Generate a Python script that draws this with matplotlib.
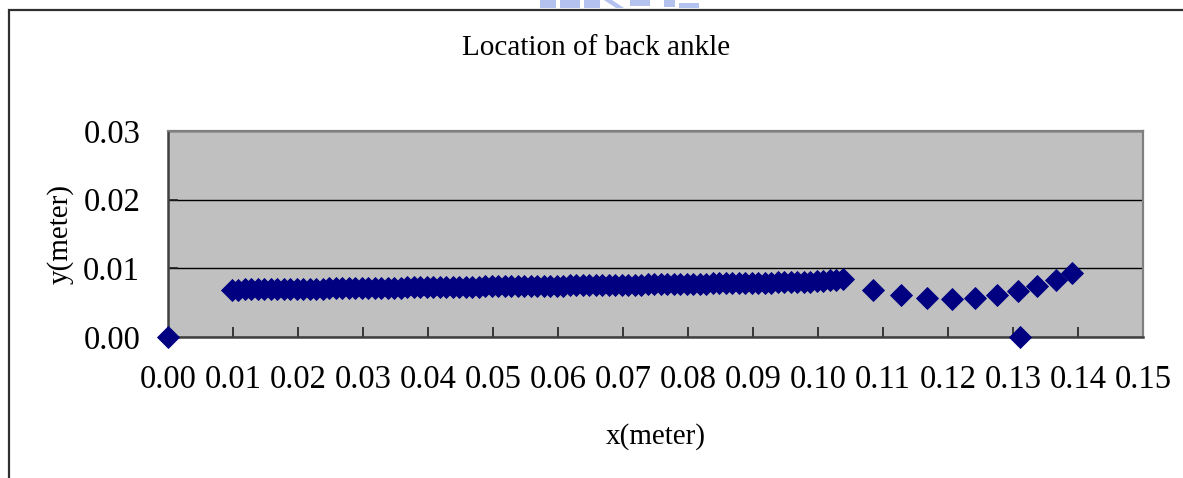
import matplotlib
matplotlib.use("Agg")
import matplotlib.pyplot as plt
from matplotlib.patches import Rectangle, Polygon

plt.rcParams['font.family'] = ['Liberation Serif', 'DejaVu Serif']

# Back-ankle trajectory: tightly sampled stance phase
x_stance = [
    0.0098, 0.0108, 0.0118, 0.0128, 0.0138, 0.0148, 0.0158, 0.0168, 0.0178, 0.0188,
    0.0198, 0.0208, 0.0218, 0.0228, 0.0238, 0.0248, 0.0258, 0.0268, 0.0278, 0.0288,
    0.0298, 0.0308, 0.0318, 0.0328, 0.0338, 0.0348, 0.0358, 0.0368, 0.0378, 0.0388,
    0.0398, 0.0408, 0.0418, 0.0428, 0.0438, 0.0448, 0.0458, 0.0468, 0.0478, 0.0488,
    0.0498, 0.0508, 0.0518, 0.0528, 0.0538, 0.0548, 0.0558, 0.0568, 0.0578, 0.0588,
    0.0598, 0.0608, 0.0618, 0.0628, 0.0638, 0.0648, 0.0658, 0.0668, 0.0678, 0.0688,
    0.0698, 0.0708, 0.0718, 0.0728, 0.0738, 0.0748, 0.0758, 0.0768, 0.0778, 0.0788,
    0.0798, 0.0808, 0.0818, 0.0828, 0.0838, 0.0848, 0.0858, 0.0868, 0.0878, 0.0888,
    0.0898, 0.0908, 0.0918, 0.0928, 0.0938, 0.0948, 0.0958, 0.0968, 0.0978, 0.0988,
    0.0998, 0.1008, 0.1018, 0.1028, 0.1038,
]
y_stance = [
    0.00690, 0.00691, 0.00692, 0.00694, 0.00695, 0.00696, 0.00697, 0.00698, 0.00699, 0.00701,
    0.00702, 0.00703, 0.00704, 0.00705, 0.00706, 0.00708, 0.00709, 0.00710, 0.00711, 0.00712,
    0.00713, 0.00715, 0.00716, 0.00717, 0.00718, 0.00719, 0.00720, 0.00722, 0.00723, 0.00724,
    0.00725, 0.00726, 0.00727, 0.00729, 0.00730, 0.00731, 0.00732, 0.00733, 0.00734, 0.00736,
    0.00737, 0.00738, 0.00739, 0.00740, 0.00741, 0.00743, 0.00744, 0.00745, 0.00746, 0.00747,
    0.00748, 0.00750, 0.00751, 0.00752, 0.00753, 0.00754, 0.00755, 0.00757, 0.00758, 0.00759,
    0.00760, 0.00761, 0.00763, 0.00764, 0.00766, 0.00767, 0.00769, 0.00770, 0.00771, 0.00773,
    0.00774, 0.00776, 0.00777, 0.00779, 0.00780, 0.00781, 0.00783, 0.00784, 0.00786, 0.00787,
    0.00789, 0.00790, 0.00791, 0.00793, 0.00794, 0.00796, 0.00797, 0.00799, 0.00800, 0.00806,
    0.00812, 0.00818, 0.00825, 0.00832, 0.00840,
]

# Swing phase, coarser sampling
x_swing = [0.1084, 0.1128, 0.1168, 0.1206, 0.1242, 0.1275, 0.1307, 0.1337, 0.1366, 0.1391]
y_swing = [0.00691, 0.00609, 0.00570, 0.00555, 0.00570, 0.00609, 0.00677, 0.00749, 0.00836, 0.00938]

# Reference points lying on the ground line
x_ground = [0.0, 0.1311]
y_ground = [0.0, 0.0]

x_ticks = [0.00, 0.01, 0.02, 0.03, 0.04, 0.05, 0.06, 0.07, 0.08, 0.09, 0.10, 0.11, 0.12, 0.13, 0.14, 0.15]
y_ticks = [0.00, 0.01, 0.02, 0.03]

W, H = 1183, 478
fig = plt.figure(figsize=(W / 100, H / 100), dpi=100)
fig.patch.set_facecolor('white')

# Outer chart frame (runs off the right and bottom edges)
fig.patches.append(Rectangle((8.5 / W, -0.05), 1.2, 1 - 10.5 / H + 0.05,
                             transform=fig.transFigure, fill=False,
                             edgecolor='#303030', linewidth=1.6, zorder=0))

# Faint watermark fragments along the top edge
wm = '#B4C2EF'
for pts in [
    [(540, 0), (556, 0), (556, 8), (540, 8)],
    [(560, 0), (580, 0), (580, 8), (560, 8)],
    [(584, 0), (600, 0), (600, 8), (584, 8)],
    [(604, 0), (612, 0), (624, 8), (616, 8)],
    [(630, 0), (650, 0), (650, 6), (630, 6)],
    [(664, 0), (675, 0), (675, 7), (664, 7)],
    [(679, 3), (699, 3), (699, 8), (679, 8)],
]:
    fig.patches.append(Polygon([(px / W, 1 - py / H) for px, py in pts],
                               closed=True, transform=fig.transFigure,
                               facecolor=wm, edgecolor='none', zorder=0))

ax = fig.add_axes([168 / W, 1 - 337 / H, (1143 - 168) / W, (337 - 131) / H])
ax.set_facecolor('#C0C0C0')
ax.set_xlim(0, 0.15)
ax.set_ylim(0, 0.03)

ax.set_xticks(x_ticks)
ax.set_xticklabels([f'{v:.2f}' for v in x_ticks])
ax.set_yticks(y_ticks)
ax.set_yticklabels([f'{v:.2f}' for v in y_ticks])
ax.tick_params(direction='in', length=7, width=1.2, color='#202020',
               labelsize=23.5, pad=20)

ax.grid(axis='y', color='black', linewidth=1.0)
ax.set_axisbelow(True)

for side in ('top', 'right'):
    ax.spines[side].set_color('#808080')
    ax.spines[side].set_linewidth(1.6)
for side in ('left', 'bottom'):
    ax.spines[side].set_color('#404040')
    ax.spines[side].set_linewidth(1.8)

marker_kw = dict(marker='D', linestyle='none', color='#000080',
                 markeredgecolor='#000080', markersize=11.5, markeredgewidth=0.6,
                 clip_on=False, zorder=3)
ax.plot(x_stance, y_stance, **marker_kw)
ax.plot(x_swing, y_swing, **marker_kw)
ax.plot(x_ground, y_ground, **marker_kw)

fig.text(596 / W, 1 - 48 / H, 'Location of back ankle', ha='center', va='center', fontsize=21)
fig.text(655.5 / W, 1 - 437 / H, 'x(meter)', ha='center', va='center', fontsize=21)
fig.text(60 / W, 1 - 234 / H, 'y(meter)', ha='center', va='center', rotation=90, fontsize=21)

fig.savefig('out.png', dpi=100, facecolor='white')
